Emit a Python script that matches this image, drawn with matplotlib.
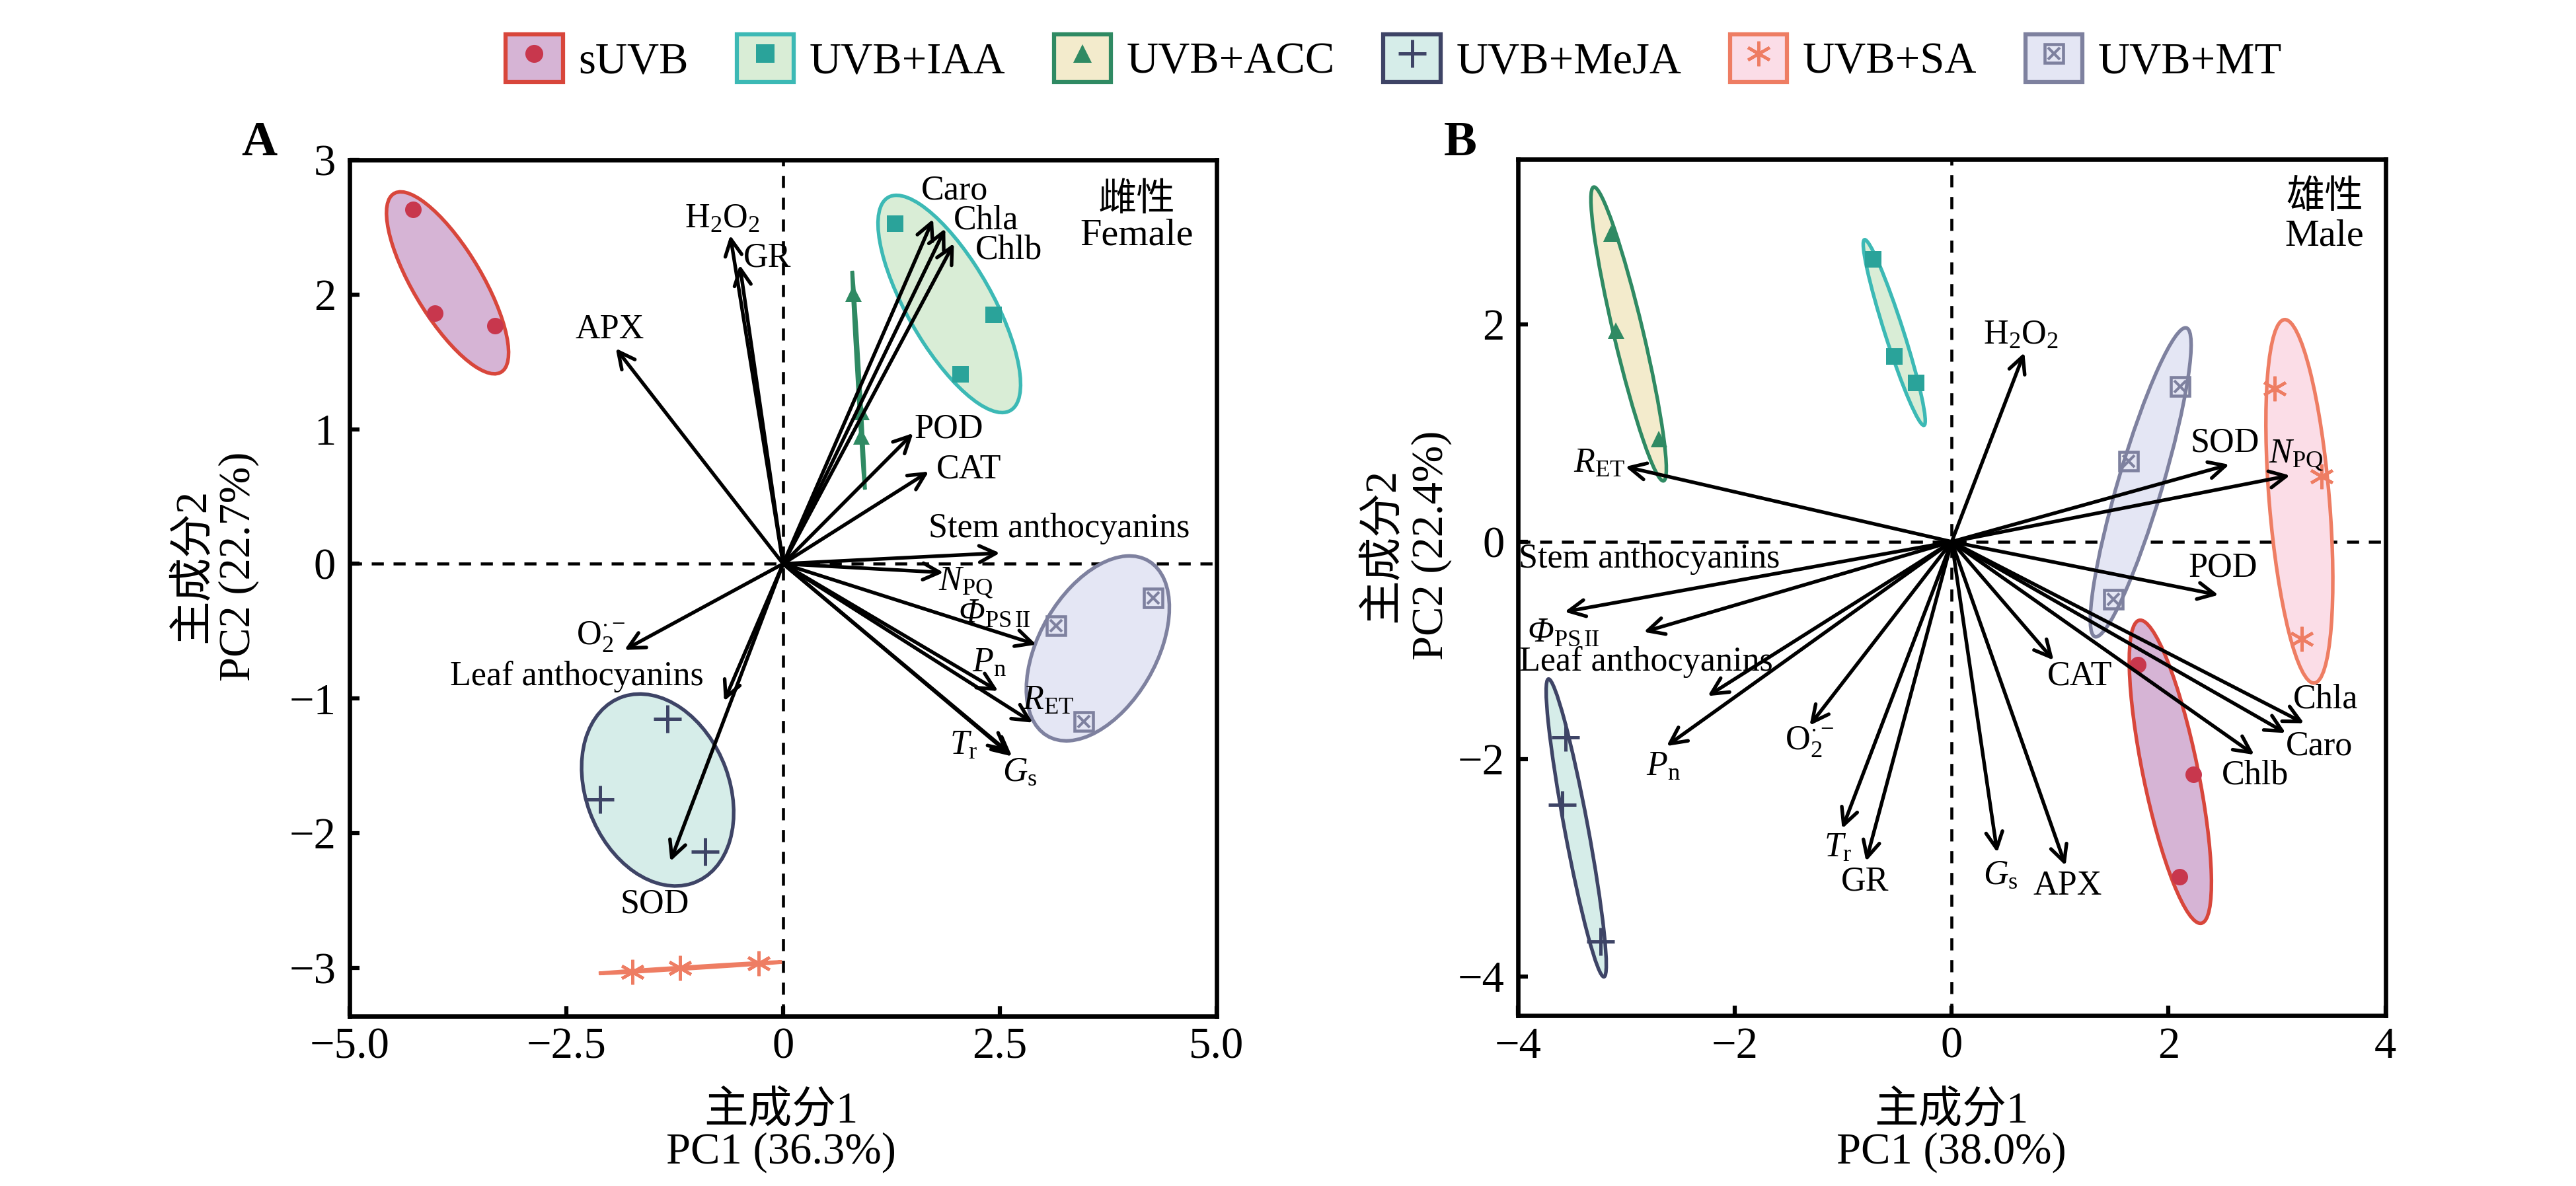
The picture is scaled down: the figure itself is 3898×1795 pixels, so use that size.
import numpy as np
import matplotlib
matplotlib.use("Agg")
import matplotlib.pyplot as plt
from matplotlib.patches import Ellipse, Patch
from matplotlib.lines import Line2D

plt.rcParams['font.family'] = ['Liberation Serif', 'Noto Sans CJK SC']
plt.rcParams['mathtext.fontset'] = 'custom'
plt.rcParams['mathtext.rm'] = 'Liberation Serif'
plt.rcParams['mathtext.it'] = 'Liberation Serif:italic'
plt.rcParams['mathtext.sf'] = 'Liberation Serif:italic'
plt.rcParams['mathtext.bf'] = 'Liberation Serif:bold'
plt.rcParams['axes.unicode_minus'] = True

# groups
groups = ['sUVB', 'UVB+IAA', 'UVB+ACC', 'UVB+MeJA', 'UVB+SA', 'UVB+MT']
fill_colors = ['#D6B4D5', '#D9EDD6', '#F3EBCC', '#D6EDE9', '#FBDDE7', '#E4E6F4']
edge_colors = ['#D8463B', '#3CB9B5', '#2F8A63', '#3E4466', '#EE7D63', '#7E819F']
mark_colors = ['#C8374D', '#2AA39A', '#2F8A63', '#3E4466', '#EE7D63', '#7E819F']
markers = ['o', 's', '^', '+', (6, 2, 0), 's']

# panel A scores (3 samples per group)
a_pc1 = [[-4.27, -4.02, -3.32], [1.29, 2.42, 2.04], [0.81, 0.90, 0.90],
         [-1.33, -2.11, -0.90], [-1.74, -1.19, -0.28], [4.27, 3.15, 3.47]]
a_pc2 = [[2.63, 1.86, 1.77], [2.53, 1.85, 1.41], [2.01, 1.13, 0.95],
         [-1.15, -1.75, -2.14], [-3.03, -3.00, -2.97], [-0.255, -0.46, -1.17]]

# panel B scores
b_pc1 = [[1.72, 2.23, 2.10], [-0.73, -0.53, -0.33], [-3.14, -3.10, -2.70],
         [-3.56, -3.59, -3.24], [2.98, 3.41, 3.23], [2.11, 1.63, 1.49]]
b_pc2 = [[-1.13, -2.14, -3.08], [2.60, 1.71, 1.465], [2.84, 1.945, 0.95],
         [-1.80, -2.42, -3.68], [1.41, 0.60, -0.895], [1.43, 0.74, -0.53]]

# variable names (mathtext)
var_labels = {
    'H2O2': 'H$_2$O$_2$', 'GR': 'GR', 'APX': 'APX', 'Caro': 'Caro',
    'Chla': 'Chla', 'Chlb': 'Chlb', 'POD': 'POD', 'CAT': 'CAT',
    'Stem': 'Stem anthocyanins', 'NPQ': '$N_{\\mathrm{PQ}}$',
    'PhiPSII': '$\\mathsf{\u03a6}_{\\mathrm{PS\\,II}}$', 'Pn': '$P_{\\mathrm{n}}$',
    'RET': '$R_{\\mathrm{ET}}$', 'Tr': '$T_{\\mathrm{r}}$', 'Gs': '$G_{\\mathrm{s}}$',
    'O2': '$\\mathrm{O}_2^{\\cdot -}$', 'Leaf': 'Leaf anthocyanins', 'SOD': 'SOD',
}

# panel A loadings (arrow tips) and label positions
a_vars = ['H2O2', 'GR', 'APX', 'Caro', 'Chla', 'Chlb', 'POD', 'CAT', 'Stem',
          'NPQ', 'PhiPSII', 'Pn', 'RET', 'Tr', 'Gs', 'O2', 'Leaf', 'SOD']
a_load_x = [-0.61, -0.50, -1.93, 1.73, 1.87, 1.97, 1.50, 1.68, 2.50,
            1.85, 2.92, 2.48, 2.88, 2.60, 2.64, -1.83, -0.68, -1.30]
a_load_y = [2.44, 2.22, 1.60, 2.56, 2.49, 2.38, 0.97, 0.685, 0.08,
            -0.065, -0.60, -0.945, -1.18, -1.40, -1.43, -0.64, -1.02, -2.21]
a_lab_x = [-0.70, -0.18, -2.00, 1.98, 2.34, 2.60, 1.91, 2.14, 3.18,
           2.11, 2.44, 2.38, 3.06, 2.08, 2.73, -2.10, -2.38, -1.48]
a_lab_y = [2.56, 2.27, 1.74, 2.77, 2.55, 2.33, 1.00, 0.70, 0.26,
           -0.14, -0.37, -0.74, -1.02, -1.35, -1.55, -0.54, -0.84, -2.53]

# panel B loadings and label positions
b_vars = ['H2O2', 'RET', 'SOD', 'NPQ', 'POD', 'Stem', 'PhiPSII', 'Leaf', 'Pn',
          'O2', 'Tr', 'GR', 'Gs', 'APX', 'CAT', 'Chlb', 'Caro', 'Chla']
b_load_x = [0.67, -3.01, 2.56, 3.12, 2.46, -3.57, -2.84, -2.25, -2.63,
            -1.31, -1.01, -0.79, 0.42, 1.05, 0.94, 2.79, 3.08, 3.25]
b_load_y = [1.74, 0.69, 0.71, 0.61, -0.49, -0.645, -0.83, -1.42, -1.88,
            -1.69, -2.64, -2.94, -2.86, -2.98, -1.09, -1.96, -1.76, -1.67]
b_lab_x = [0.64, -3.25, 2.52, 3.18, 2.50, -2.79, -3.58, -2.82, -2.66,
           -1.31, -1.05, -0.80, 0.45, 1.07, 1.18, 2.80, 3.39, 3.45]
b_lab_y = [1.90, 0.72, 0.91, 0.80, -0.24, -0.16, -0.84, -1.11, -2.07,
           -1.84, -2.82, -3.13, -3.07, -3.17, -1.24, -2.15, -1.88, -1.45]

ELL_K = 1.43


def draw_group(ax, xs, ys, i):
    xs = np.asarray(xs)
    ys = np.asarray(ys)
    cov = np.cov(xs, ys)
    vals, vecs = np.linalg.eigh(cov)
    order = vals.argsort()[::-1]
    vals, vecs = vals[order], vecs[:, order]
    angle = np.degrees(np.arctan2(vecs[1, 0], vecs[0, 0]))
    w, h = 2 * ELL_K * np.sqrt(np.clip(vals, 1e-6, None))
    ell = Ellipse((xs.mean(), ys.mean()), w, h, angle=angle,
                  facecolor=fill_colors[i], edgecolor=edge_colors[i],
                  lw=1.3, zorder=2)
    ax.add_patch(ell)
    draw_marks(ax, xs, ys, i, 3)


def draw_marks(ax, xs, ys, i, z):
    m = markers[i]
    if groups[i] == 'UVB+MT':
        ax.plot(xs, ys, ls='none', marker='s', ms=6.5, mfc='none',
                mec=mark_colors[i], mew=1.1, zorder=z)
        ax.plot(xs, ys, ls='none', marker='x', ms=4.5,
                mec=mark_colors[i], mew=1.0, zorder=z)
    elif m == '+':
        ax.plot(xs, ys, ls='none', marker='+', ms=10, mec=mark_colors[i],
                mew=1.2, zorder=z)
    elif m == (6, 2, 0):
        ax.plot(xs, ys, ls='none', marker=m, ms=9, mec=mark_colors[i],
                mew=1.1, zorder=z)
    else:
        ax.plot(xs, ys, ls='none', marker=m, ms=6, mfc=mark_colors[i],
                mec='none', zorder=z)


def draw_arrows(ax, names, lx, ly, tx, ty):
    for n, x, y, px, py in zip(names, lx, ly, tx, ty):
        ax.annotate('', xy=(x, y), xytext=(0, 0),
                    arrowprops=dict(arrowstyle='->', lw=1.3, color='black',
                                    shrinkA=0, shrinkB=0, mutation_scale=15),
                    zorder=4)
        ax.text(px, py, var_labels[n], ha='center', va='center',
                fontsize=12.5, zorder=5)


def style_axis(ax, xlim, ylim, xticks, xticklabels, yticks):
    ax.set_xlim(*xlim)
    ax.set_ylim(*ylim)
    ax.axhline(0, color='black', ls=(0, (4, 3.2)), lw=1.1, zorder=1)
    ax.axvline(0, color='black', ls=(0, (4, 3.2)), lw=1.1, zorder=1)
    ax.set_xticks(xticks)
    ax.set_xticklabels(xticklabels)
    ax.set_yticks(yticks)
    ax.set_yticklabels([f'{v:g}'.replace('-', '\u2212') for v in yticks])
    ax.tick_params(direction='in', length=3.5, width=1.5, labelsize=16,
                   top=False, right=False)
    ax.tick_params(axis='y', pad=5)
    ax.tick_params(axis='x', pad=4)
    for s in ax.spines.values():
        s.set_linewidth(1.6)


fig = plt.figure(figsize=(3898 / 300, 1795 / 300), dpi=300)
ax_a = fig.add_axes([0.1357, 0.1432, 0.3366, 0.7220])
ax_b = fig.add_axes([0.5893, 0.1437, 0.3367, 0.7221])

style_axis(ax_a, (-5, 5), (-3.36, 3.0), [-5, -2.5, 0, 2.5, 5],
           ['\u22125.0', '\u22122.5', '0', '2.5', '5.0'], [-3, -2, -1, 0, 1, 2, 3])
style_axis(ax_b, (-4, 4), (-4.36, 3.52), [-4, -2, 0, 2, 4],
           ['\u22124', '\u22122', '0', '2', '4'], [-4, -2, 0, 2])

for i in range(len(groups)):
    draw_group(ax_a, a_pc1[i], a_pc2[i], i)
    draw_group(ax_b, b_pc1[i], b_pc2[i], i)

draw_arrows(ax_a, a_vars, a_load_x, a_load_y, a_lab_x, a_lab_y)
draw_arrows(ax_b, b_vars, b_load_x, b_load_y, b_lab_x, b_lab_y)

# sex labels
ax_a.text(0.908, 0.953, '雌性', transform=ax_a.transAxes, ha='center',
          va='center', fontsize=14)
ax_a.text(0.908, 0.912, 'Female', transform=ax_a.transAxes, ha='center',
          va='center', fontsize=14)
ax_b.text(0.93, 0.955, '雄性', transform=ax_b.transAxes, ha='center',
          va='center', fontsize=14)
ax_b.text(0.93, 0.910, 'Male', transform=ax_b.transAxes, ha='center',
          va='center', fontsize=14)

# panel letters
fig.text(0.1006, 0.879, 'A', fontsize=18, fontweight='bold', ha='center', va='center')
fig.text(0.567, 0.879, 'B', fontsize=18, fontweight='bold', ha='center', va='center')

# axis titles
fig.text(0.3032, 0.063, '主成分1', fontsize=16, ha='center', va='center')
fig.text(0.3032, 0.0284, 'PC1 (36.3%)', fontsize=16, ha='center', va='center')
fig.text(0.7575, 0.063, '主成分1', fontsize=16, ha='center', va='center')
fig.text(0.7575, 0.0284, 'PC1 (38.0%)', fontsize=16, ha='center', va='center')
fig.text(0.075, 0.5226, '主成分2', fontsize=16, ha='center', va='center', rotation=90)
fig.text(0.0926, 0.5226, 'PC2 (22.7%)', fontsize=16, ha='center', va='center', rotation=90)
fig.text(0.5367, 0.54, '主成分2', fontsize=16, ha='center', va='center', rotation=90)
fig.text(0.5556, 0.54, 'PC2 (22.4%)', fontsize=16, ha='center', va='center', rotation=90)

# legend
handles = []
for i, g in enumerate(groups):
    box = Patch(facecolor=fill_colors[i], edgecolor=edge_colors[i], lw=1.5)
    if g == 'UVB+MT':
        h = (box,
             Line2D([], [], ls='none', marker='s', ms=6.5, mfc='none',
                    mec=mark_colors[i], mew=1.1),
             Line2D([], [], ls='none', marker='x', ms=4.5, mec=mark_colors[i], mew=1.0))
    elif markers[i] == '+':
        h = (box, Line2D([], [], ls='none', marker='+', ms=10,
                         mec=mark_colors[i], mew=1.2))
    elif markers[i] == (6, 2, 0):
        h = (box, Line2D([], [], ls='none', marker=markers[i], ms=9,
                         mec=mark_colors[i], mew=1.1))
    else:
        h = (box, Line2D([], [], ls='none', marker=markers[i], ms=6.5,
                         mfc=mark_colors[i], mec='none'))
    handles.append(h)

fig.legend(handles, groups, loc='center', bbox_to_anchor=(0.541, 0.951),
           ncol=6, frameon=False, fontsize=16, handlelength=1.3,
           handleheight=1.3, handletextpad=0.35, columnspacing=1.1)

fig.savefig('out.png', dpi=300)
